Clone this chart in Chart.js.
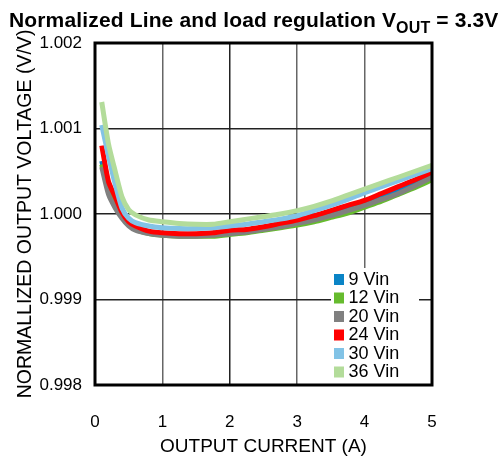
<!DOCTYPE html>
<html>
<head>
<meta charset="utf-8">
<script src="https://cdn.jsdelivr.net/npm/chart.js@4"></script>
<style>
  html, body { margin: 0; padding: 0; background: #fff; }
  #wrap { position: relative; width: 500px; height: 458px; }
  #title {
    position: absolute; left: 9px; top: 9px; white-space: nowrap; letter-spacing: 0.15px;
    font: bold 21px Arial, "Liberation Sans", sans-serif; line-height: 21px; color: #000;
  }
  #title sub { font-size: 16px; vertical-align: baseline; position: relative; top: 6px; }
  canvas { position: absolute; left: 0; top: 0; }
</style>
</head>
<body>
<div id="wrap">
  <canvas id="regChart" width="500" height="458"></canvas>
  <div id="title">Normalized Line and load regulation V<sub>OUT</sub> = 3.3V</div>
</div>
<script>
// output current (A)
const current = [0.1, 0.2, 0.3, 0.4, 0.5, 0.6, 0.8, 1.0, 1.25, 1.5, 1.75, 2.0, 2.25, 2.5, 2.75, 3.0, 3.25, 3.5, 3.75, 4.0, 4.25, 4.5, 4.75, 5.0];

// normalized output voltage per input voltage
const vin9  = [1.00062, 1.00030, 1.00012, 0.99999, 0.99989, 0.99984, 0.99979, 0.99977, 0.99976, 0.99976, 0.99977, 0.99979, 0.99981, 0.99984, 0.99987, 0.99991, 0.99996, 1.00001, 1.00007, 1.00013, 1.00020, 1.00028, 1.00036, 1.00045];
const vin12 = [1.00058, 1.00028, 1.00010, 0.99997, 0.99987, 0.99982, 0.99977, 0.99975, 0.99974, 0.99974, 0.99974, 0.99976, 0.99978, 0.99981, 0.99984, 0.99987, 0.99991, 0.99996, 1.00001, 1.00008, 1.00015, 1.00023, 1.00031, 1.00040];
const vin20 = [1.00055, 1.00023, 1.00007, 0.99995, 0.99986, 0.99981, 0.99977, 0.99975, 0.99974, 0.99974, 0.99975, 0.99977, 0.99979, 0.99982, 0.99985, 0.99989, 0.99993, 0.99998, 1.00004, 1.00010, 1.00017, 1.00024, 1.00033, 1.00043];
const vin24 = [1.00080, 1.00038, 1.00020, 1.00002, 0.99991, 0.99986, 0.99980, 0.99978, 0.99977, 0.99977, 0.99978, 0.99981, 0.99982, 0.99985, 0.99989, 0.99993, 0.99998, 1.00004, 1.00010, 1.00016, 1.00024, 1.00032, 1.00040, 1.00049];
const vin30 = [1.00104, 1.00068, 1.00035, 1.00007, 0.99995, 0.99990, 0.99986, 0.99984, 0.99983, 0.99983, 0.99984, 0.99986, 0.99988, 0.99991, 0.99994, 0.99998, 1.00004, 1.00010, 1.00017, 1.00025, 1.00032, 1.00039, 1.00046, 1.00053];
const vin36 = [1.00131, 1.00082, 1.00050, 1.00020, 1.00005, 0.99999, 0.99993, 0.99991, 0.99989, 0.99988, 0.99988, 0.99991, 0.99994, 0.99997, 1.00000, 1.00004, 1.00009, 1.00015, 1.00022, 1.00029, 1.00036, 1.00043, 1.00050, 1.00057];

const seriesNames = ['9 Vin', '12 Vin', '20 Vin', '24 Vin', '30 Vin', '36 Vin'];
const seriesValues = [vin9, vin12, vin20, vin24, vin30, vin36];
const seriesColors = ['#0a84c6', '#66bb2e', '#808080', '#ff0000', '#82c3e6', '#b3dc9a'];

const xTicks = [0, 1, 2, 3, 4, 5];
const yTicks = [0.998, 0.999, 1.000, 1.001, 1.002];

const FONT = 'Arial, "Liberation Sans", sans-serif';

// white box with swatches, sits inside the plot at lower right
const legendBox = {
  id: 'legendBox',
  beforeDatasetsDraw(chart) {
    const { ctx } = chart;
    ctx.save();
    ctx.fillStyle = '#fff';
    ctx.fillRect(331, 268, 88, 116);
    ctx.font = '18px ' + FONT;
    ctx.textBaseline = 'middle';
    ctx.textAlign = 'left';
    seriesNames.forEach((name, i) => {
      const cy = 279 + i * 18.5;
      ctx.fillStyle = seriesColors[i];
      ctx.fillRect(334, cy - 5, 10, 11);
      ctx.fillStyle = '#000';
      ctx.fillText(name, 348.5, cy + 1);
    });
    ctx.restore();
  }
};

// heavy black frame round the plot
const frame = {
  id: 'frame',
  afterDatasetsDraw(chart) {
    const { ctx, chartArea: a } = chart;
    ctx.save();
    ctx.strokeStyle = '#000';
    ctx.lineWidth = 3;
    ctx.strokeRect(a.left, a.top, a.right - a.left, a.bottom - a.top);
    ctx.restore();
  }
};

new Chart(document.getElementById('regChart'), {
  type: 'line',
  data: {
    datasets: seriesNames.map((name, i) => ({
      label: name,
      data: current.map((c, j) => ({ x: c, y: seriesValues[i][j] })),
      borderColor: seriesColors[i],
      backgroundColor: seriesColors[i],
      borderWidth: 5,
      pointRadius: 0,
      tension: 0.2,
      fill: false,
      order: 6 - i
    }))
  },
  options: {
    responsive: false,
    animation: false,
    layout: { padding: { top: 43, right: 68, left: 0, bottom: 0 } },
    plugins: {
      legend: { display: false },
      tooltip: { enabled: false }
    },
    scales: {
      x: {
        type: 'linear',
        min: 0,
        max: 5,
        afterFit: (s) => { s.height = 73; },
        afterBuildTicks: (s) => { s.ticks = xTicks.map(v => ({ value: v })); },
        ticks: { color: '#000', font: { size: 17, family: FONT }, padding: 27 },
        grid: { color: (c) => c.tick && c.tick.value === 2 ? '#222' : '#666', lineWidth: 1.5, drawTicks: false },
        border: { display: false },
        title: { display: true, text: 'OUTPUT CURRENT (A)', color: '#000', font: { size: 19, family: FONT }, padding: { top: 0, bottom: 0 } }
      },
      y: {
        min: 0.998,
        max: 1.002,
        afterFit: (s) => { s.width = 95; },
        afterBuildTicks: (s) => { s.ticks = yTicks.map(v => ({ value: v })); },
        ticks: { color: '#000', font: { size: 17, family: FONT }, padding: 13, callback: (v) => Number(v).toFixed(3) },
        grid: { color: '#222', lineWidth: 1.5, drawTicks: false },
        border: { display: false },
        title: { display: true, text: 'NORMALLIZED OUTPUT VOLTAGE (V/V)', color: '#000', font: { size: 19.5, family: FONT }, padding: { top: 14, bottom: 0 } }
      }
    }
  },
  plugins: [legendBox, frame]
});
</script>
</body>
</html>
